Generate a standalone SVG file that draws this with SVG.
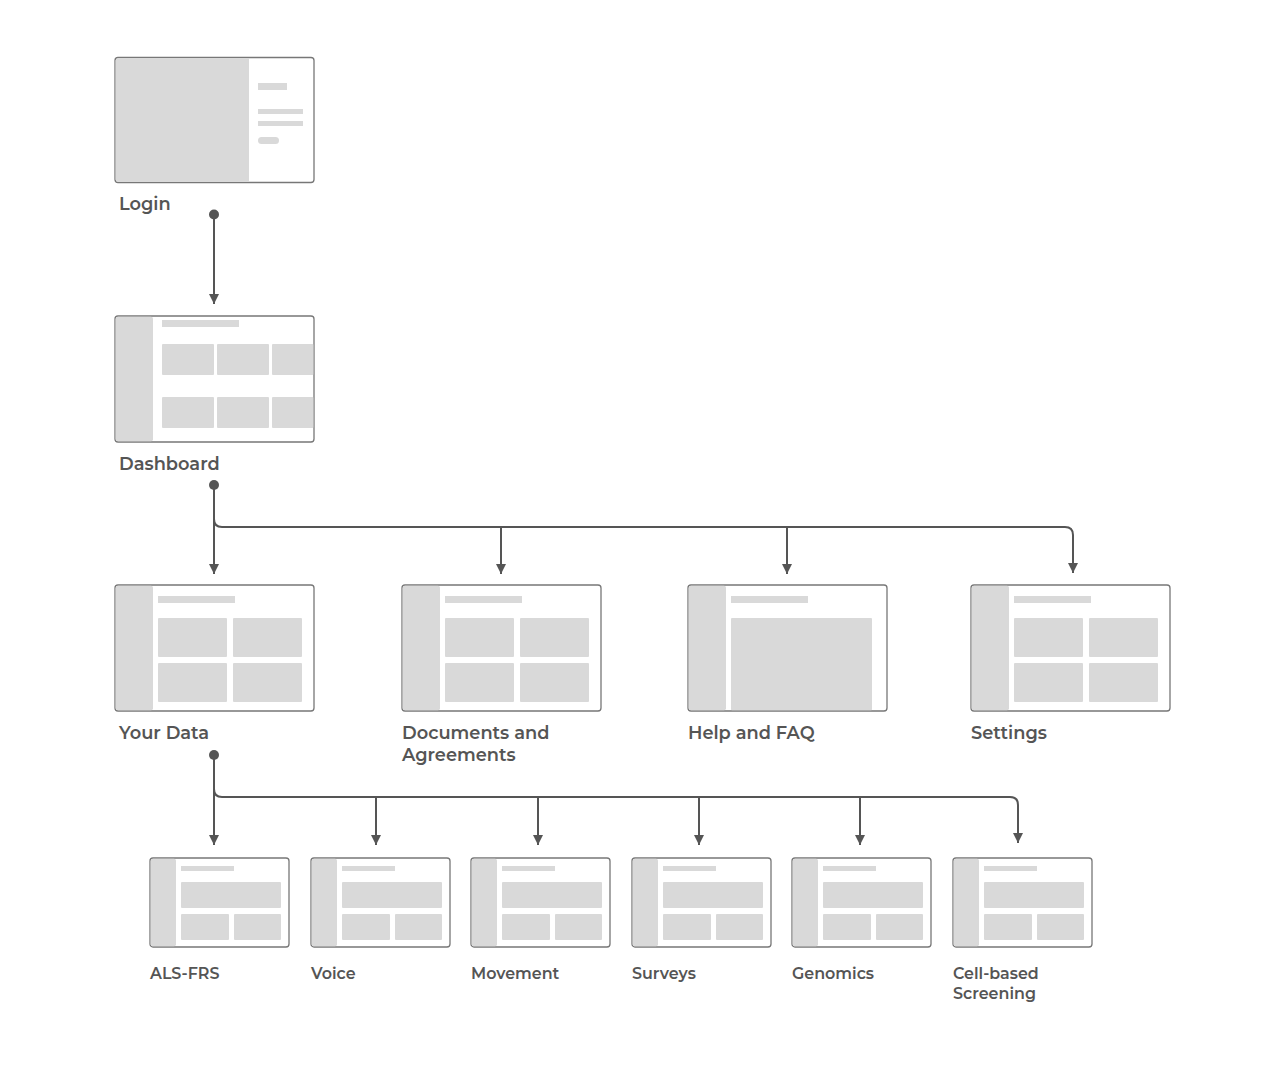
<svg xmlns="http://www.w3.org/2000/svg" width="1273" height="1080" viewBox="0 0 1273 1080">
<style>
.frame{fill:#fff;stroke:#777;stroke-width:1.3}
.g{fill:#d9d9d9}
.lbl{font-family:"Montserrat","Open Sans","Liberation Sans",sans-serif;font-weight:600;font-size:17.8px;fill:#555}
.sl{font-family:"Montserrat","Open Sans","Liberation Sans",sans-serif;font-weight:600;font-size:15.9px;fill:#555}
.wire{fill:none;stroke:#555;stroke-width:2}
</style>
<defs>
<marker id="ah" viewBox="0 0 10 10" refX="10" refY="5" markerWidth="5" markerHeight="5" orient="auto" markerUnits="strokeWidth">
<path d="M0,0 L10,5 L0,10 Z" fill="#555"/>
</marker>
</defs>
<rect width="1273" height="1080" fill="#fff"/>

<g id="login">
<rect class="frame" x="115" y="57.5" width="199" height="125" rx="3"/>
<path class="g" d="M118,58.2 H249 V181.8 H118 A2.5,2.5 0 0 1 115.7,179.5 V60.5 A2.5,2.5 0 0 1 118,58.2 Z"/>
<rect class="g" x="258" y="83" width="29" height="7"/>
<rect class="g" x="258" y="109" width="45" height="5"/>
<rect class="g" x="258" y="121" width="45" height="5"/>
<rect class="g" x="258" y="137" width="21" height="7" rx="3.5"/>
<text class="lbl" x="119" y="210">Login</text>
</g>

<g id="dashboard">
<rect class="frame" x="115" y="316" width="199" height="126" rx="3"/>
<rect class="g" x="115.7" y="316.7" width="37.3" height="124.6" rx="2"/>
<rect class="g" x="162" y="320" width="77" height="7"/>
<rect class="g" x="162" y="344" width="52" height="31" rx="1"/>
<rect class="g" x="217" y="344" width="52" height="31" rx="1"/>
<rect class="g" x="272" y="344" width="41.3" height="31" rx="1"/>
<rect class="g" x="162" y="397" width="52" height="31" rx="1"/>
<rect class="g" x="217" y="397" width="52" height="31" rx="1"/>
<rect class="g" x="272" y="397" width="41.3" height="31" rx="1"/>
<text class="lbl" x="119" y="470">Dashboard</text>
</g>

<g id="yourdata">
<rect class="frame" x="115" y="585" width="199" height="126" rx="3"/>
<rect class="g" x="115.7" y="585.7" width="37.3" height="124.6" rx="2"/>
<rect class="g" x="158" y="596" width="77" height="7"/>
<rect class="g" x="158" y="618" width="69" height="39" rx="1"/>
<rect class="g" x="233" y="618" width="69" height="39" rx="1"/>
<rect class="g" x="158" y="663" width="69" height="39" rx="1"/>
<rect class="g" x="233" y="663" width="69" height="39" rx="1"/>
<text class="lbl" x="119" y="739">Your Data</text>
</g>

<g id="documents">
<rect class="frame" x="402" y="585" width="199" height="126" rx="3"/>
<rect class="g" x="402.7" y="585.7" width="37.3" height="124.6" rx="2"/>
<rect class="g" x="445" y="596" width="77" height="7"/>
<rect class="g" x="445" y="618" width="69" height="39" rx="1"/>
<rect class="g" x="520" y="618" width="69" height="39" rx="1"/>
<rect class="g" x="445" y="663" width="69" height="39" rx="1"/>
<rect class="g" x="520" y="663" width="69" height="39" rx="1"/>
<text class="lbl" x="402" y="739">Documents and</text>
<text class="lbl" x="402" y="761">Agreements</text>
</g>

<g id="help">
<rect class="frame" x="688" y="585" width="199" height="126" rx="3"/>
<rect class="g" x="688.7" y="585.7" width="37.3" height="124.6" rx="2"/>
<rect class="g" x="731" y="596" width="77" height="7"/>
<rect class="g" x="731" y="618" width="141" height="92.3" rx="1"/>
<text class="lbl" x="688" y="739">Help and FAQ</text>
</g>

<g id="settings">
<rect class="frame" x="971" y="585" width="199" height="126" rx="3"/>
<rect class="g" x="971.7" y="585.7" width="37.3" height="124.6" rx="2"/>
<rect class="g" x="1014" y="596" width="77" height="7"/>
<rect class="g" x="1014" y="618" width="69" height="39" rx="1"/>
<rect class="g" x="1089" y="618" width="69" height="39" rx="1"/>
<rect class="g" x="1014" y="663" width="69" height="39" rx="1"/>
<rect class="g" x="1089" y="663" width="69" height="39" rx="1"/>
<text class="lbl" x="971" y="739">Settings</text>
</g>

<g id="alsfrs" transform="translate(150,0)">
<rect class="frame" x="0" y="858" width="139" height="89" rx="3"/>
<rect class="g" x="0.7" y="858.7" width="25.3" height="87.6" rx="2"/>
<rect class="g" x="31" y="866" width="53" height="5"/>
<rect class="g" x="31" y="882" width="100" height="26" rx="1"/>
<rect class="g" x="31" y="914" width="48" height="26" rx="1"/>
<rect class="g" x="84" y="914" width="47" height="26" rx="1"/>
<text class="sl" x="0" y="979">ALS-FRS</text>
</g>
<g id="voice" transform="translate(311,0)">
<rect class="frame" x="0" y="858" width="139" height="89" rx="3"/>
<rect class="g" x="0.7" y="858.7" width="25.3" height="87.6" rx="2"/>
<rect class="g" x="31" y="866" width="53" height="5"/>
<rect class="g" x="31" y="882" width="100" height="26" rx="1"/>
<rect class="g" x="31" y="914" width="48" height="26" rx="1"/>
<rect class="g" x="84" y="914" width="47" height="26" rx="1"/>
<text class="sl" x="0" y="979">Voice</text>
</g>
<g id="movement" transform="translate(471,0)">
<rect class="frame" x="0" y="858" width="139" height="89" rx="3"/>
<rect class="g" x="0.7" y="858.7" width="25.3" height="87.6" rx="2"/>
<rect class="g" x="31" y="866" width="53" height="5"/>
<rect class="g" x="31" y="882" width="100" height="26" rx="1"/>
<rect class="g" x="31" y="914" width="48" height="26" rx="1"/>
<rect class="g" x="84" y="914" width="47" height="26" rx="1"/>
<text class="sl" x="0" y="979">Movement</text>
</g>
<g id="surveys" transform="translate(632,0)">
<rect class="frame" x="0" y="858" width="139" height="89" rx="3"/>
<rect class="g" x="0.7" y="858.7" width="25.3" height="87.6" rx="2"/>
<rect class="g" x="31" y="866" width="53" height="5"/>
<rect class="g" x="31" y="882" width="100" height="26" rx="1"/>
<rect class="g" x="31" y="914" width="48" height="26" rx="1"/>
<rect class="g" x="84" y="914" width="47" height="26" rx="1"/>
<text class="sl" x="0" y="979">Surveys</text>
</g>
<g id="genomics" transform="translate(792,0)">
<rect class="frame" x="0" y="858" width="139" height="89" rx="3"/>
<rect class="g" x="0.7" y="858.7" width="25.3" height="87.6" rx="2"/>
<rect class="g" x="31" y="866" width="53" height="5"/>
<rect class="g" x="31" y="882" width="100" height="26" rx="1"/>
<rect class="g" x="31" y="914" width="48" height="26" rx="1"/>
<rect class="g" x="84" y="914" width="47" height="26" rx="1"/>
<text class="sl" x="0" y="979">Genomics</text>
</g>
<g id="cellbased" transform="translate(953,0)">
<rect class="frame" x="0" y="858" width="139" height="89" rx="3"/>
<rect class="g" x="0.7" y="858.7" width="25.3" height="87.6" rx="2"/>
<rect class="g" x="31" y="866" width="53" height="5"/>
<rect class="g" x="31" y="882" width="100" height="26" rx="1"/>
<rect class="g" x="31" y="914" width="48" height="26" rx="1"/>
<rect class="g" x="84" y="914" width="47" height="26" rx="1"/>
<text class="sl" x="0" y="979">Cell-based</text>
<text class="sl" x="0" y="999">Screening</text>
</g>

<g id="connectors">
<circle cx="214" cy="214.5" r="5" fill="#555"/>
<path class="wire" d="M214,214 V304" marker-end="url(#ah)"/>
<circle cx="214" cy="485" r="5" fill="#555"/>
<path class="wire" d="M214,485 V574" marker-end="url(#ah)"/>
<path class="wire" d="M214,519 Q214,527 222,527 H1065 Q1073,527 1073,535 V573" marker-end="url(#ah)"/>
<path class="wire" d="M501,527 V574" marker-end="url(#ah)"/>
<path class="wire" d="M787,527 V574" marker-end="url(#ah)"/>
<circle cx="214" cy="755" r="5" fill="#555"/>
<path class="wire" d="M214,755 V845" marker-end="url(#ah)"/>
<path class="wire" d="M214,789 Q214,797 222,797 H1010 Q1018,797 1018,805 V843" marker-end="url(#ah)"/>
<path class="wire" d="M376,797 V845" marker-end="url(#ah)"/>
<path class="wire" d="M538,797 V845" marker-end="url(#ah)"/>
<path class="wire" d="M699,797 V845" marker-end="url(#ah)"/>
<path class="wire" d="M860,797 V845" marker-end="url(#ah)"/>
</g>
</svg>
